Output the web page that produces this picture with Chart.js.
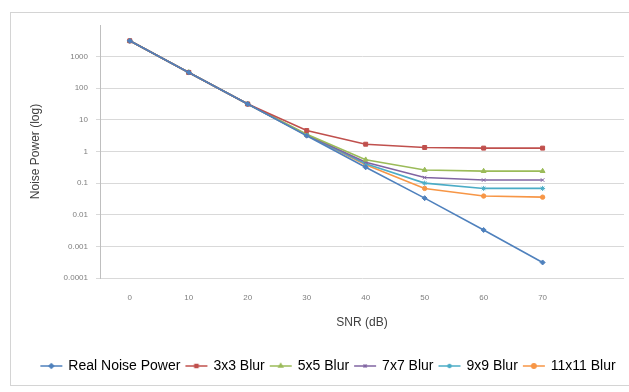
<!DOCTYPE html>
<html>
<head>
<meta charset="utf-8">
<script src="https://cdn.jsdelivr.net/npm/chart.js@4"></script>
<style>
  html, body { margin: 0; padding: 0; background: #fff; overflow: hidden; }
  #wrap { position: relative; width: 629px; height: 392px; }
</style>
</head>
<body>
<div id="wrap"><canvas id="chart" width="629" height="392"></canvas></div>
<script>
// SNR values on the x axis
const snr = [0, 10, 20, 30, 40, 50, 60, 70];

// noise power per series
const realNoise = [3160, 316, 31.6, 3.16, 0.316, 0.0335, 0.0033, 0.00031];
const blur3 = [3160, 316, 31.6, 4.6, 1.7, 1.34, 1.28, 1.28];
const blur5 = [3160, 316, 31.6, 3.5, 0.55, 0.26, 0.24, 0.24];
const blur7 = [3160, 316, 31.6, 3.4, 0.46, 0.15, 0.125, 0.125];
const blur9 = [3160, 316, 31.6, 3.3, 0.41, 0.1, 0.068, 0.068];
const blur11 = [3160, 316, 31.6, 3.25, 0.38, 0.068, 0.039, 0.036];

const yTicks = [0.0001, 0.001, 0.01, 0.1, 1, 10, 100, 1000];

const series = [
    { label: 'Real Noise Power', data: realNoise, color: '#4F81BD', style: 'rectRot', r: 2.5 },
    { label: '3x3 Blur', data: blur3, color: '#C0504D', style: 'rect', r: 2.8 },
    { label: '5x5 Blur', data: blur5, color: '#9BBB59', style: 'triangle', r: 2.8 },
    { label: '7x7 Blur', data: blur7, color: '#8064A2', style: 'crossRot', r: 2.5 },
    { label: '9x9 Blur', data: blur9, color: '#4BACC6', style: 'star', r: 2.5 },
    { label: '11x11 Blur', data: blur11, color: '#F79646', style: 'circle', r: 2.2 },
];

// small line+marker image used as the legend symbol
function legendSymbol(s) {
    const c = document.createElement('canvas');
    c.width = 24; c.height = 8;
    const ctx = c.getContext('2d');
    ctx.strokeStyle = s.color;
    ctx.lineWidth = 1.5;
    ctx.beginPath();
    ctx.moveTo(1, 4); ctx.lineTo(23, 4);
    ctx.stroke();
    ctx.fillStyle = s.color;
    Chart.helpers.drawPoint(ctx, { pointStyle: s.style, radius: 2.2, borderWidth: 1 }, 12, 4);
    ctx.fill();
    return c;
}

const borderPlugin = {
    id: 'outerBorder',
    beforeDraw(chart) {
        const ctx = chart.ctx;
        ctx.save();
        ctx.strokeStyle = '#d4d4d4';
        ctx.lineWidth = 1;
        ctx.strokeRect(10.5, 12.5, 640, 373);
        ctx.restore();
    }
};

const datasets = series.map(s => ({
    label: s.label,
    data: s.data.map((v, i) => ({ x: snr[i], y: v })),
    borderColor: s.color,
    backgroundColor: s.color,
    borderWidth: 1.6,
    pointStyle: s.style,
    pointRadius: s.r,
    pointBorderWidth: 1,
    tension: 0,
    legendImg: legendSymbol(s),
}));

new Chart(document.getElementById('chart'), {
    type: 'line',
    data: { datasets },
    plugins: [borderPlugin],
    options: {
        responsive: false,
        animation: false,
        layout: { padding: { top: 25, left: 28, right: 0, bottom: 9 } },
        plugins: {
            legend: {
                position: 'bottom',
                labels: {
                    usePointStyle: true,
                    pointStyleWidth: 20,
                    padding: 6,
                    color: '#262626',
                    font: { family: 'Liberation Sans, Arial', size: 14 },
                    generateLabels(chart) {
                        return chart.data.datasets.map((ds, i) => ({
                            text: ds.label,
                            pointStyle: ds.legendImg,
                            fillStyle: ds.borderColor,
                            strokeStyle: ds.borderColor,
                            lineWidth: 0,
                            datasetIndex: i,
                            hidden: false,
                        }));
                    }
                }
            },
            tooltip: { enabled: false },
        },
        scales: {
            x: {
                type: 'linear',
                min: -5.05,
                max: 83.8,
                afterBuildTicks(scale) {
                    scale.ticks = snr.map(v => ({ value: v }));
                },
                afterFit(scale) { scale.height = 75; },
                grid: { display: false, drawTicks: false },
                border: { display: false },
                ticks: {
                    padding: 15,
                    color: '#7f7f7f',
                    font: { family: 'Liberation Sans, Arial', size: 8 },
                    maxRotation: 0,
                },
                title: {
                    display: true,
                    text: 'SNR (dB)',
                    color: '#404040',
                    padding: { top: 8, bottom: 23 },
                    font: { family: 'Liberation Sans, Arial', size: 12 },
                }
            },
            y: {
                type: 'logarithmic',
                min: 0.0001,
                max: 10000,
                afterBuildTicks(scale) {
                    scale.ticks = yTicks.map(v => ({ value: v }));
                },
                afterFit(scale) { scale.width = 72; },
                grid: { color: '#d9d9d9', lineWidth: 1, drawTicks: true, tickLength: 4 },
                border: { display: true, color: '#bfbfbf' },
                ticks: {
                    padding: 8,
                    color: '#7f7f7f',
                    font: { family: 'Liberation Sans, Arial', size: 8 },
                    callback: v => String(v),
                },
                title: {
                    display: true,
                    text: 'Noise Power (log)',
                    color: '#404040',
                    padding: { top: 0, bottom: 8 },
                    font: { family: 'Liberation Sans, Arial', size: 12 },
                }
            }
        }
    }
});
</script>
</body>
</html>
